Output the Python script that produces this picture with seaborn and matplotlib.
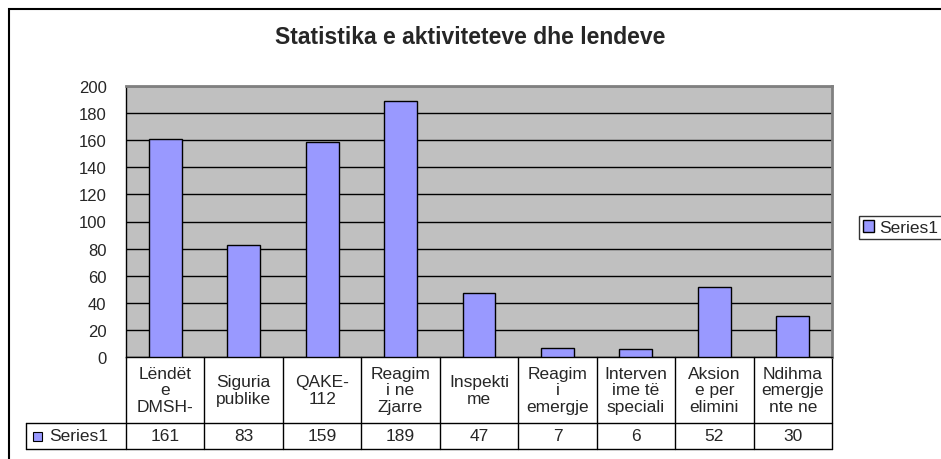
import matplotlib
matplotlib.use("Agg")
import matplotlib.pyplot as plt
import seaborn as sns
from matplotlib.patches import Rectangle

# data
categories = ["Lëndët\ne\nDMSH-", "Siguria\npublike", "QAKE-\n112", "Reagim\ni ne\nZjarre",
              "Inspekti\nme", "Reagim\ni\nemergje", "Interven\nime të\nspeciali",
              "Aksion\ne per\nelimini", "Ndihma\nemergje\nnte ne"]
values = [161, 83, 159, 189, 47, 7, 6, 52, 30]
series_name = "Series1"
yticks = list(range(0, 201, 20))

sns.set_style("white")
plt.rcParams['font.family'] = ['Liberation Sans', 'DejaVu Sans']

fig = plt.figure(figsize=(9.41, 4.6), dpi=100)
ax = fig.add_axes([126/941, 102/460, 706/941, 271/460])

sns.barplot(x=list(range(len(values))), y=values, color="#9999FF", saturation=1,
            edgecolor="black", linewidth=1, width=0.42, ax=ax, label=series_name, zorder=3)

ax.set_facecolor("#C0C0C0")
ax.set_ylim(0, 200)
ax.set_xlim(-0.5, len(values) - 0.5)
ax.set_yticks(yticks)
ax.set_yticklabels([str(t) for t in yticks], fontsize=12)
ax.yaxis.grid(True, color="black", linewidth=1)
ax.set_axisbelow(True)
ax.tick_params(axis="y", length=5, width=1, color="black", direction="out", pad=9)
ax.tick_params(axis="x", length=0, labelbottom=False)
ax.set_xlabel("")
ax.set_ylabel("")
for side in ["top", "right"]:
    ax.spines[side].set_color("#808080")
    ax.spines[side].set_linewidth(2)
ax.spines["left"].set_color("black")
ax.spines["left"].set_linewidth(1)
ax.spines["bottom"].set_color("black")
ax.spines["bottom"].set_linewidth(1)

# data table under the plot
tr = ax.get_xaxis_transform()
n = len(values)
hdr_bot = -66/271
val_bot = -92/271
col_px = 706 / n
lbl_left = -0.5 - 100/col_px
lk = dict(color="black", lw=1, transform=tr, clip_on=False)
ax.plot([lbl_left, n - 0.5], [hdr_bot, hdr_bot], **lk)
ax.plot([lbl_left, n - 0.5], [val_bot, val_bot], **lk)
ax.plot([lbl_left, lbl_left], [hdr_bot, val_bot], **lk)
for i in range(n + 1):
    ax.plot([i - 0.5, i - 0.5], [0, val_bot], **lk)
for i, (c, v) in enumerate(zip(categories, values)):
    ax.text(i, hdr_bot / 2, c, transform=tr, ha="center", va="center",
            fontsize=12.5, linespacing=1.12)
    ax.text(i, (hdr_bot + val_bot) / 2, str(v), transform=tr, ha="center",
            va="center", fontsize=12.5)
row_mid = (hdr_bot + val_bot) / 2
ax.add_patch(Rectangle((lbl_left + 7/col_px, row_mid - 4.5/271), 9/col_px, 9/271,
                       transform=tr, clip_on=False, facecolor="#9999FF",
                       edgecolor="black", lw=0.8))
ax.text(lbl_left + 23/col_px, row_mid, series_name, transform=tr,
        ha="left", va="center", fontsize=12.5)

# legend on the right, running off the edge
leg = ax.legend(loc="upper left", bbox_to_anchor=(850/941, 1 - 208/460),
                bbox_transform=fig.transFigure, frameon=True, fancybox=False,
                handlelength=0.65, handleheight=0.65, handletextpad=0.3,
                borderpad=0.25, fontsize=12.5)
leg.get_frame().set_edgecolor("black")
leg.get_frame().set_linewidth(1)

fig.text(470/941, 1 - 38/460, "Statistika e aktiviteteve dhe lendeve",
         ha="center", va="center", fontsize=16.5, fontweight="bold")

# chart border
fig.patches.append(Rectangle((9/941, -0.1), 1.2, 1.1 - 10/460, transform=fig.transFigure,
                             fill=False, edgecolor="black", lw=1.5, figure=fig))

fig.savefig("out.png", dpi=100)
